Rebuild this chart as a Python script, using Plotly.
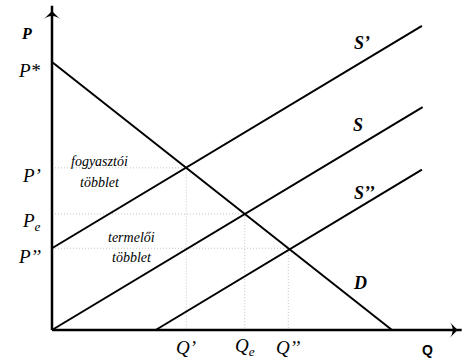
import plotly.graph_objects as go

# kereslet / kínálat görbék (végpontok)
q_d = [0, 10]
p_d = [10, 0]
q_s = [0, 10.9]
p_s = [0, 8.32]
q_s1 = [0, 10.88]      # S'
p_s1 = [3.05, 11.35]
q_s2 = [3.05, 10.88]   # S''
p_s2 = [0, 5.98]

# egyensúlyi pontok: Q', Qe, Q''
q_eq = [3.95, 5.67, 6.95]
p_eq = [6.05, 4.33, 3.05]
q_labels = ["Q’", "Q<sub>e</sub>", "Q’’"]
p_labels = ["P’", "P<sub>e</sub>", "P’’"]
p_star = 10

# tengelyek hossza
q_max = 12.05
p_max = 12.1

SERIF = "Liberation Serif, Times New Roman, serif"

fig = go.Figure()

# segédvonalak (pontozott)
for q, p in zip(q_eq, p_eq):
    fig.add_trace(go.Scatter(x=[0, q, q], y=[p, p, 0], mode="lines",
                             line=dict(color="#c4c4c4", width=1, dash="1px,2px"),
                             hoverinfo="skip"))

# görbék
for xs, ys in [(q_d, p_d), (q_s, p_s), (q_s1, p_s1), (q_s2, p_s2)]:
    fig.add_trace(go.Scatter(x=xs, y=ys, mode="lines",
                             line=dict(color="black", width=2),
                             cliponaxis=False, hoverinfo="skip"))

# tengelyek
fig.add_trace(go.Scatter(x=[0, 0], y=[0, p_max], mode="lines",
                         line=dict(color="black", width=2.5), cliponaxis=False, hoverinfo="skip"))
fig.add_trace(go.Scatter(x=[0, q_max], y=[0, 0], mode="lines",
                         line=dict(color="black", width=2.5), cliponaxis=False, hoverinfo="skip"))
# nyílhegyek
fig.add_trace(go.Scatter(x=[0, q_max - 0.12], y=[p_max - 0.2, 0], mode="markers",
                         marker=dict(symbol="arrow-wide", size=12, color="black", angle=[0, 90]),
                         cliponaxis=False, hoverinfo="skip"))

def label(x, y, text, size=18, bold=False, italic=True, family=SERIF, anchor="center"):
    t = "<b>" + text + "</b>" if bold else text
    fig.add_annotation(x=x, y=y, text=t, showarrow=False, xanchor=anchor,
                       yanchor="middle",
                       font=dict(family=family, size=size, color="black",
                                 style="italic" if italic else "normal"))

# tengelyfeliratok
label(-0.74, 11.08, "P", size=16, bold=True)
label(11.03, -0.74, "Q", size=14, bold=True, italic=False, family="Liberation Sans, Arial")
label(-0.27, p_star - 0.3, "P*", size=19, anchor="right")
for p, t in zip(p_eq, p_labels):
    label(-0.27, p - 0.3, t, size=19, anchor="right")
for q, t in zip(q_eq, q_labels):
    label(q, -0.65, t, size=19)

# görbék nevei
label(9.12, 10.71, "S’", size=18, bold=True)
label(9.0, 7.65, "S", size=18, bold=True)
label(9.2, 5.11, "S’’", size=18, bold=True)
label(9.06, 1.75, "D", size=18, bold=True)

# többlet feliratok
label(1.41, 6.27, "fogyasztói", size=14)
label(1.41, 5.52, "többlet", size=14)
label(2.35, 3.47, "termelői", size=14)
label(2.35, 2.72, "többlet", size=14)

fig.update_layout(
    width=463, height=359,
    margin=dict(l=0, r=0, t=0, b=0),
    plot_bgcolor="white", paper_bgcolor="white",
    showlegend=False,
    xaxis=dict(range=[-1.529, 12.088], visible=False, fixedrange=True),
    yaxis=dict(range=[-1.082, 12.313], visible=False, fixedrange=True),
)

fig.write_html("out.html", config={"displayModeBar": False},
               post_script="document.body.style.margin='0';")
